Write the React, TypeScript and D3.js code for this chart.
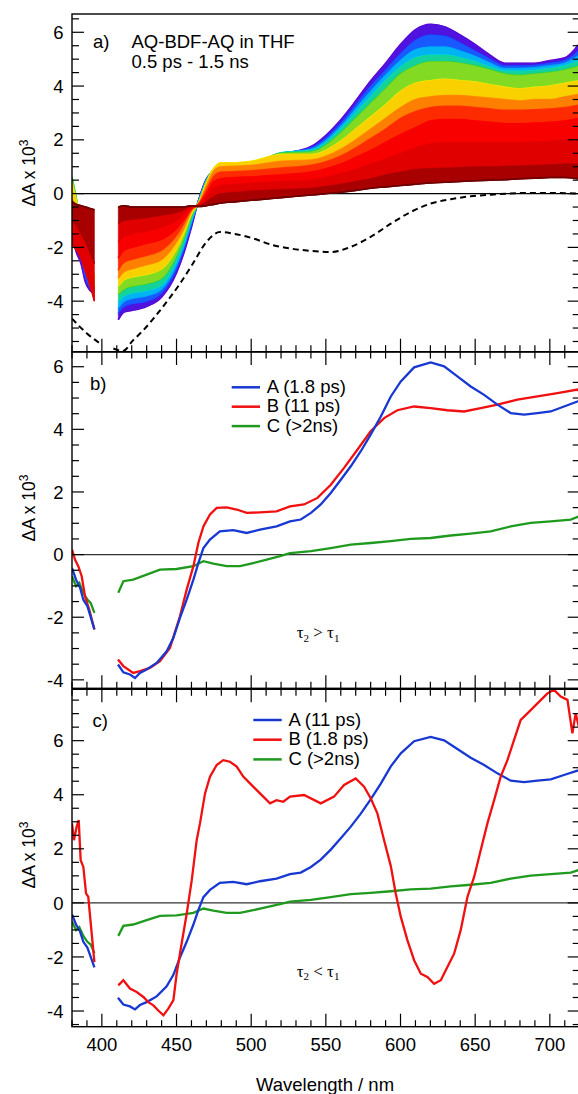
import React from 'react';
import * as d3 from 'd3';

// ---------- Panel a: transient spectra, earliest (violet) to latest (dark red) ----------
const wlA = [380, 383, 386, 389, 392, 395,
  411, 415, 420, 430, 440, 450, 455, 460, 465, 470,
  475, 480, 490, 500, 520, 540, 560, 570, 580, 590,
  600, 610, 620, 630, 640, 650, 660, 670, 680, 690,
  700, 710, 720];

const specA0 = [-1.6, -2.2, -2.6, -3.3, -3.6, -3.7,
  -4.7, -4.4, -4.35, -4.2, -3.85, -2.95, -2.2, -1.25, -0.2, 0.55,
  0.8, 0.85, 0.9, 0.95, 1.45, 1.75, 2.75, 3.45, 4.2, 4.85,
  5.55, 6.1, 6.3, 6.2, 5.9, 5.55, 5.15, 4.85, 4.85, 4.85,
  4.95, 5.05, 5.6];
const specA1 = [-1.2, -1.9, -2.4, -3.1, -3.5, -3.7,
  -4.45, -4.2, -4.1, -4.0, -3.7, -2.8, -2.05, -1.15, -0.22, 0.52,
  0.82, 0.88, 0.93, 0.98, 1.47, 1.7, 2.62, 3.3, 4.0, 4.6,
  5.2, 5.7, 5.9, 5.85, 5.6, 5.3, 5.0, 4.75, 4.75, 4.77,
  4.85, 4.95, 5.35];
const specA2 = [-0.6, -1.4, -2.1, -2.8, -3.3, -3.6,
  -4.25, -4.0, -3.9, -3.8, -3.55, -2.65, -1.95, -1.05, -0.25, 0.5,
  0.85, 0.92, 0.97, 1.02, 1.5, 1.65, 2.5, 3.15, 3.8, 4.4,
  4.95, 5.35, 5.45, 5.45, 5.3, 5.1, 4.85, 4.65, 4.65, 4.68,
  4.75, 4.85, 5.15];
const specA3 = [0.2, -0.7, -1.6, -2.4, -3.0, -3.4,
  -4.0, -3.8, -3.7, -3.6, -3.4, -2.5, -1.8, -0.95, -0.28, 0.47,
  0.88, 0.98, 1.02, 1.07, 1.52, 1.6, 2.4, 3.0, 3.6, 4.2,
  4.7, 5.05, 5.15, 5.15, 5.05, 4.9, 4.7, 4.55, 4.55, 4.58,
  4.65, 4.75, 4.95];
const specA4 = [0.6, -0.2, -1.2, -2.0, -2.7, -3.2,
  -3.75, -3.55, -3.45, -3.35, -3.15, -2.3, -1.65, -0.85, -0.3, 0.45,
  0.92, 1.05, 1.08, 1.12, 1.5, 1.55, 2.25, 2.8, 3.35, 3.9,
  4.45, 4.75, 4.9, 4.9, 4.85, 4.75, 4.6, 4.45, 4.4, 4.45,
  4.5, 4.6, 4.75];
const specA5 = [0.4, -0.3, -1.0, -1.8, -2.5, -3.0,
  -3.45, -3.2, -3.1, -3.0, -2.8, -2.05, -1.45, -0.75, -0.32, 0.4,
  0.95, 1.15, 1.15, 1.2, 1.45, 1.45, 1.95, 2.4, 2.85, 3.3,
  3.8, 4.1, 4.2, 4.25, 4.2, 4.15, 4.05, 3.95, 3.9, 3.95,
  4.0, 4.1, 4.2];
const specA6 = [-0.2, -0.6, -1.2, -1.9, -2.6, -3.2,
  -3.15, -2.9, -2.8, -2.65, -2.45, -1.8, -1.3, -0.65, -0.35, 0.3,
  0.85, 1.0, 1.02, 1.05, 1.2, 1.25, 1.65, 2.0, 2.4, 2.8,
  3.2, 3.5, 3.6, 3.65, 3.65, 3.6, 3.55, 3.5, 3.45, 3.5,
  3.5, 3.6, 3.7];
const specA7 = [-0.8, -1.0, -1.5, -2.1, -2.8, -3.5,
  -2.85, -2.55, -2.45, -2.3, -2.1, -1.55, -1.1, -0.6, -0.37, 0.15,
  0.65, 0.8, 0.82, 0.85, 0.95, 1.05, 1.4, 1.7, 2.05, 2.4,
  2.8, 3.05, 3.2, 3.25, 3.25, 3.2, 3.15, 3.1, 3.1, 3.12,
  3.15, 3.2, 3.3];
const specA8 = [-1.3, -1.5, -1.9, -2.5, -3.1, -3.9,
  -2.4, -2.1, -2.0, -1.85, -1.7, -1.3, -0.95, -0.55, -0.4, 0.0,
  0.45, 0.55, 0.6, 0.62, 0.7, 0.8, 1.1, 1.35, 1.6, 1.9,
  2.2, 2.45, 2.7, 2.75, 2.75, 2.7, 2.65, 2.6, 2.6, 2.62,
  2.65, 2.7, 2.8];
const specA9 = [-1.9, -2.1, -2.4, -2.9, -3.4, -4.0,
  -1.8, -1.6, -1.5, -1.4, -1.25, -1.0, -0.75, -0.5, -0.42, -0.15,
  0.2, 0.3, 0.35, 0.38, 0.45, 0.5, 0.75, 0.9, 1.1, 1.3,
  1.5, 1.7, 1.85, 1.9, 1.9, 1.9, 1.9, 1.9, 1.9, 1.92,
  1.95, 2.0, 2.05];
const specA10 = [-1.0, -1.2, -1.5, -1.8, -2.2, -2.6,
  -1.1, -1.0, -0.95, -0.9, -0.8, -0.7, -0.6, -0.45, -0.45, -0.3,
  -0.1, 0.0, 0.05, 0.1, 0.15, 0.2, 0.35, 0.45, 0.55, 0.7,
  0.8, 0.9, 0.93, 0.95, 0.97, 1.0, 1.0, 1.02, 1.03, 1.05,
  1.07, 1.1, 1.1];
const specA11 = [-0.3, -0.4, -0.45, -0.5, -0.55, -0.6,
  -0.5, -0.45, -0.5, -0.5, -0.5, -0.5, -0.5, -0.45, -0.48, -0.45,
  -0.4, -0.35, -0.3, -0.25, -0.15, -0.05, 0.05, 0.12, 0.2, 0.25,
  0.3, 0.35, 0.4, 0.42, 0.45, 0.48, 0.5, 0.52, 0.55, 0.57,
  0.6, 0.6, 0.55];
const spectraA = [specA0, specA1, specA2, specA3, specA4, specA5, specA6, specA7, specA8, specA9, specA10, specA11];
const spectraColors = ['#6a00c8', '#2a2cff', '#0099ff', '#00d8e0', '#2ecc3a', '#f5f000',
  '#ffa500', '#ff4a00', '#ff0000', '#ee0000', '#d00000', '#700000'];

// steady-state absorption (dashed, inverted)
const wlAbs = [380, 390, 399, 407.7, 414, 421, 427.8, 434.5, 443.4, 452.3, 461, 470, 479, 488,
  501.4, 514.8, 526, 540, 553.3, 566.7, 580, 593.5, 607, 620.3, 633.6, 647, 660.4, 682.7, 705, 720];
const absVals = [-4.65, -5.2, -5.58, -5.76, -5.85, -5.45, -5.08, -4.65, -4.03, -3.35, -2.6, -1.8, -1.43, -1.49,
  -1.67, -1.92, -2.04, -2.13, -2.17, -1.98, -1.61, -1.12, -0.68, -0.37, -0.21, -0.1, -0.04, 0.02, 0.02, 0.0];

// ---------- EADS ----------
const wlBlue = [380, 382.7, 385.4, 387.6, 390.3, 392, 395,
  410.8, 414.4, 418.8, 422.2, 425.5, 430, 436.7, 443.4, 447.9, 452.3, 456.8, 461.3, 464.6, 468,
  472.4, 479, 488, 497, 505.9, 517, 526, 533.2, 540, 546.6, 553.3, 560, 566.7, 573.4, 580,
  586.8, 593.5, 600.2, 609.1, 620.2, 629.2, 638.1, 647, 656, 664.9, 673.8, 682.8, 691.7,
  700.6, 709.5, 718.5, 720];
const blueVals = [-0.43, -0.8, -1.06, -1.44, -1.65, -1.91, -2.39,
  -3.51, -3.76, -3.83, -3.94, -3.78, -3.67, -3.46, -3.09, -2.66, -2.02, -1.44, -0.8, -0.27, 0.21,
  0.48, 0.74, 0.78, 0.69, 0.8, 0.9, 1.06, 1.12, 1.33, 1.6, 1.97, 2.39, 2.82, 3.3, 3.83,
  4.41, 5.05, 5.53, 5.98, 6.14, 6.01, 5.69, 5.37, 5.1, 4.79, 4.52, 4.47, 4.52,
  4.57, 4.73, 4.89, 4.92];

const wlRedB = [380, 382, 384.2, 386.5, 388.7, 391.6, 395,
  410.8, 414.4, 421, 425.5, 432.2, 438.9, 445.6, 452.3, 456.8, 461.3, 464.6, 468, 472.4,
  476.9, 483.6, 490.3, 497, 505.9, 517, 526, 535.4, 544.4, 553.3, 562.2, 571.1, 580, 589,
  597.9, 609.1, 620.2, 631.4, 642.6, 653.7, 664.9, 678.3, 691.7, 705.1, 718.5, 720];
const redBVals = [0.16, -0.16, -0.37, -0.69, -1.33, -1.76, -2.39,
  -3.35, -3.56, -3.78, -3.72, -3.62, -3.4, -2.98, -1.97, -1.12, -0.37, 0.37, 0.9, 1.28,
  1.49, 1.51, 1.44, 1.33, 1.35, 1.38, 1.54, 1.6, 1.81, 2.23, 2.77, 3.35, 3.94, 4.36,
  4.61, 4.73, 4.68, 4.61, 4.57, 4.68, 4.79, 4.95, 5.05, 5.16, 5.27, 5.2];

const wlGreen = [380, 382.7, 384.9, 387.6, 390.3, 392.5, 395,
  411, 414.4, 421, 430, 438.9, 450, 461.3, 468, 474.6, 483.6, 492.5, 501.4, 510.4, 519.3,
  526, 540, 553.3, 566.7, 580, 593.5, 606.9, 620.2, 633.6, 647, 660.4, 673.8, 687.2, 700.6, 714, 719.4];
const greenVals = [-0.69, -1.01, -0.9, -1.22, -1.44, -1.54, -1.86,
  -1.22, -0.85, -0.8, -0.64, -0.48, -0.46, -0.37, -0.21, -0.29, -0.37, -0.37, -0.27, -0.16, -0.05,
  0.05, 0.11, 0.21, 0.32, 0.37, 0.43, 0.5, 0.53, 0.61, 0.67, 0.74, 0.9, 1.01, 1.06, 1.12, 1.22];

const wlRedC = [380, 381.3, 383.1, 384.5, 385.8, 387.6, 389.4, 390.9, 393.2, 395,
  411, 414.4, 418.8, 423.3, 427.8, 431.1, 434.5, 437.8, 441.2, 444.5, 447.9, 450.1, 453.4,
  456.8, 460.2, 463.5, 465.7, 469.1, 472.4, 476.9, 481.3, 485.8, 490.3, 494.7, 499.2, 503.7,
  508.1, 512.6, 517, 521.5, 526, 535.4, 546.6, 555.5, 562.2, 570, 575.6, 580.1, 584.5, 589,
  593.5, 596.8, 600.2, 604.6, 609.1, 613.6, 618, 622.5, 627, 631.4, 635.9, 640.3, 644.8,
  649.3, 653.7, 658.2, 662.7, 667.1, 671.6, 676, 680.5, 685, 691.7, 698.4, 702.8, 707.3,
  711.8, 715.1, 717.3, 719.4];
const redCVals = [2.94, 2.32, 2.81, 3.06, 1.58, 1.33, 0.35, 0.22, -1.14, -2.19,
  -3.05, -2.86, -3.17, -3.3, -3.48, -3.67, -3.79, -3.98, -4.16, -3.91, -3.6, -2.62, -1.51,
  -0.4, 0.84, 2.32, 2.94, 4.05, 4.67, 5.1, 5.28, 5.22, 5.04, 4.67, 4.42, 4.17,
  3.93, 3.68, 3.8, 3.74, 3.93, 3.99, 3.68, 3.93, 4.36, 4.6, 4.3, 3.86, 3.31, 2.32,
  1.36, 0.35, -0.52, -1.38, -2.12, -2.62, -2.74, -2.99, -2.86, -2.37, -1.88, -1.01, 0.22,
  0.96, 1.95, 2.94, 3.8, 4.67, 5.28, 6.02, 6.77, 7.01, 7.38, 7.75, 7.88, 7.63,
  7.51, 6.27, 7.01, 6.52];

const xTickLabels = [400, 450, 500, 550, 600, 650, 700];
const yTickLabels = [-4, -2, 0, 2, 4, 6];
const legendB = ['A (1.8 ps)', 'B (11 ps)', 'C (>2ns)'];
const legendC = ['A (11 ps)', 'B (1.8 ps)', 'C (>2ns)'];

const SANS = '"Liberation Sans", Arial, Helvetica, sans-serif';
const SERIF = '"Liberation Serif", "Times New Roman", serif';
const BLUE = '#1838d2';
const RED = '#f01010';
const GREEN = '#1f9a1f';

// split series at the detector gap (between ~395 nm and ~410 nm)
function splitIdx(wl: number[]): number[][] {
  const out: number[][] = [];
  let cur: number[] = [];
  wl.forEach((w, i) => {
    if (i > 0 && wl[i - 1] < 400 && w > 405) { out.push(cur); cur = []; }
    cur.push(i);
  });
  out.push(cur);
  return out;
}

export default function App() {
  const X0 = 72, X1 = 579.7;
  const x = d3.scaleLinear().domain([380, 720]).range([X0, X1]);
  const panels = [
    { top: 14, bottom: 351.7, y: d3.scaleLinear().domain([-5.88, 6.68]).range([351.7, 14]), topTicks: false, labelY: 173 },
    { top: 352, bottom: 688.3, y: d3.scaleLinear().domain([-4.27, 6.47]).range([688.3, 352]), topTicks: true, labelY: 508 },
    { top: 689.3, bottom: 1026.7, y: d3.scaleLinear().domain([-4.58, 7.9]).range([1026.7, 689.3]), topTicks: true, labelY: 855 },
  ];

  const seriesPath = (wl: number[], v: number[], y: d3.ScaleLinear<number, number>, curve: any) => {
    const gen = d3.line<number>().x(i => x(wl[i])).y(i => y(v[i])).curve(curve);
    return splitIdx(wl).map(idx => gen(idx) || '').join(' ');
  };

  const ya = panels[0].y;
  const segA = splitIdx(wlA);
  const bandPath = (a: number[], b: number[]) => {
    const gen = d3.area<number>().x(i => x(wlA[i])).y0(i => ya(a[i])).y1(i => ya(b[i])).curve(d3.curveMonotoneX);
    return segA.map(idx => gen(idx) || '').join(' ');
  };

  const spectraEls: React.ReactNode[] = [];
  spectraA.forEach((s, k) => {
    spectraEls.push(
      <path key={'l' + k} d={seriesPath(wlA, s, ya, d3.curveMonotoneX)} fill="none" stroke={spectraColors[k]} strokeWidth={1.6} />
    );
    if (k < spectraA.length - 1) {
      const c = d3.interpolateRgb(spectraColors[k], spectraColors[k + 1])(0.42);
      spectraEls.push(<path key={'b' + k} d={bandPath(s, spectraA[k + 1])} fill={c} stroke={c} strokeWidth={0.6} />);
    }
  });
  spectraEls.push(
    <path key="last" d={seriesPath(wlA, specA11, ya, d3.curveMonotoneX)} fill="none" stroke={spectraColors[11]} strokeWidth={1.6} />
  );

  const axisEls = panels.map((p, pi) => {
    const [d0, d1] = p.y.domain();
    const yTicks = d3.range(Math.ceil(d0 * 2) / 2, d1 + 1e-6, 0.5);
    const xTicks = d3.range(380, 721, 10);
    return (
      <g key={'ax' + pi}>
        {yTicks.map(v => {
          const major = Math.abs(v % 2) < 1e-6;
          const len = major ? 12 : 7;
          const yy = p.y(v);
          return (
            <g key={'yt' + v}>
              <line x1={X0} x2={X0 + len} y1={yy} y2={yy} stroke="#000" strokeWidth={1.2} />
              <line x1={X1 - len} x2={X1} y1={yy} y2={yy} stroke="#000" strokeWidth={1.2} />
            </g>
          );
        })}
        {xTicks.map(w => {
          const major = w % 50 === 0;
          const len = major ? 13 : 6.5;
          const xx = x(w);
          return (
            <g key={'xt' + w}>
              <line x1={xx} x2={xx} y1={p.bottom} y2={p.bottom - len} stroke="#000" strokeWidth={1.2} />
              {p.topTicks && <line x1={xx} x2={xx} y1={p.top} y2={p.top + len} stroke="#000" strokeWidth={1.2} />}
            </g>
          );
        })}
        {yTickLabels.filter(v => v >= d0 && v <= d1).map(v => (
          <text key={'yl' + v} x={63.5} y={p.y(v)} dy="0.36em" textAnchor="end" fontSize={18.5}>{String(v)}</text>
        ))}
        <text transform={`translate(34.5,${p.labelY}) rotate(-90)`} textAnchor="middle" fontSize={17.5}>
          ΔA x 10<tspan dy={-7} fontSize={12}>3</tspan>
        </text>
        <rect x={X0} y={p.top} width={X1 - X0} height={p.bottom - p.top} fill="none" stroke="#000" strokeWidth={1.4} />
      </g>
    );
  });

  const yb = panels[1].y, yc = panels[2].y;

  return (
    <svg width={578} height={1094} style={{ position: 'absolute', left: 0, top: 0, background: '#fff' }} fontFamily={SANS}>
      <defs>
        {panels.map((p, i) => (
          <clipPath id={'clip' + i} key={'c' + i}>
            <rect x={X0} y={p.top} width={X1 - X0} height={p.bottom - p.top} />
          </clipPath>
        ))}
      </defs>
      <rect x={0} y={0} width={578} height={1094} fill="#fff" />

      {/* Panel a */}
      <g clipPath="url(#clip0)">
        <line x1={X0} x2={X1} y1={ya(0)} y2={ya(0)} stroke="#000" strokeWidth={1.3} />
        {spectraEls}
        <path d={seriesPath(wlAbs, absVals, ya, d3.curveMonotoneX)} fill="none" stroke="#000" strokeWidth={2} strokeDasharray="6,4" />
      </g>
      <text x={93} y={48.3} fontSize={18.5}>a)</text>
      <text x={131.5} y={48.3} fontSize={18.5}>AQ-BDF-AQ in THF</text>
      <text x={131.5} y={68.3} fontSize={18.5}>0.5 ps - 1.5 ns</text>

      {/* Panel b */}
      <g clipPath="url(#clip1)">
        <line x1={X0} x2={X1} y1={yb(0)} y2={yb(0)} stroke="#333" strokeWidth={1.3} />
        <path d={seriesPath(wlGreen, greenVals, yb, d3.curveLinear)} fill="none" stroke={GREEN} strokeWidth={2.3} />
        <path d={seriesPath(wlRedB, redBVals, yb, d3.curveLinear)} fill="none" stroke={RED} strokeWidth={2.3} />
        <path d={seriesPath(wlBlue, blueVals, yb, d3.curveLinear)} fill="none" stroke={BLUE} strokeWidth={2.3} />
      </g>
      <text x={90} y={389.5} fontSize={18.5}>b)</text>
      {legendB.map((t, i) => (
        <g key={'lb' + i}>
          <line x1={231.7} x2={260} y1={387.3 + i * 19.4} y2={387.3 + i * 19.4} stroke={[BLUE, RED, GREEN][i]} strokeWidth={2.5} />
          <text x={266.7} y={392.8 + i * 19.4} fontSize={18.5}>{t}</text>
        </g>
      ))}
      <text x={296.7} y={638.3} fontFamily={SERIF} fontSize={17}>
        τ<tspan dy={3.5} fontSize={11}>2</tspan><tspan dy={-3.5}>{' > τ'}</tspan><tspan dy={3.5} fontSize={11}>1</tspan>
      </text>

      {/* Panel c */}
      <g clipPath="url(#clip2)">
        <line x1={X0} x2={X1} y1={yc(0)} y2={yc(0)} stroke="#333" strokeWidth={1.3} />
        <path d={seriesPath(wlGreen, greenVals, yc, d3.curveLinear)} fill="none" stroke={GREEN} strokeWidth={2.3} />
        <path d={seriesPath(wlBlue, blueVals, yc, d3.curveLinear)} fill="none" stroke={BLUE} strokeWidth={2.3} />
        <path d={seriesPath(wlRedC, redCVals, yc, d3.curveLinear)} fill="none" stroke={RED} strokeWidth={2.3} />
      </g>
      <text x={92.5} y={727} fontSize={18.5}>c)</text>
      {legendC.map((t, i) => (
        <g key={'lc' + i}>
          <line x1={253.3} x2={281.7} y1={720 + i * 19.7} y2={720 + i * 19.7} stroke={[BLUE, RED, GREEN][i]} strokeWidth={2.5} />
          <text x={288.4} y={725.5 + i * 19.7} fontSize={18.5}>{t}</text>
        </g>
      ))}
      <text x={296.7} y={976.7} fontFamily={SERIF} fontSize={17}>
        τ<tspan dy={3.5} fontSize={11}>2</tspan><tspan dy={-3.5}>{' < τ'}</tspan><tspan dy={3.5} fontSize={11}>1</tspan>
      </text>

      {axisEls}

      {xTickLabels.map(w => (
        <text key={'xl' + w} x={x(w)} y={1050.7} textAnchor="middle" fontSize={18.5}>{String(w)}</text>
      ))}
      <text x={325} y={1091} textAnchor="middle" fontSize={18.5}>Wavelength / nm</text>
    </svg>
  );
}
